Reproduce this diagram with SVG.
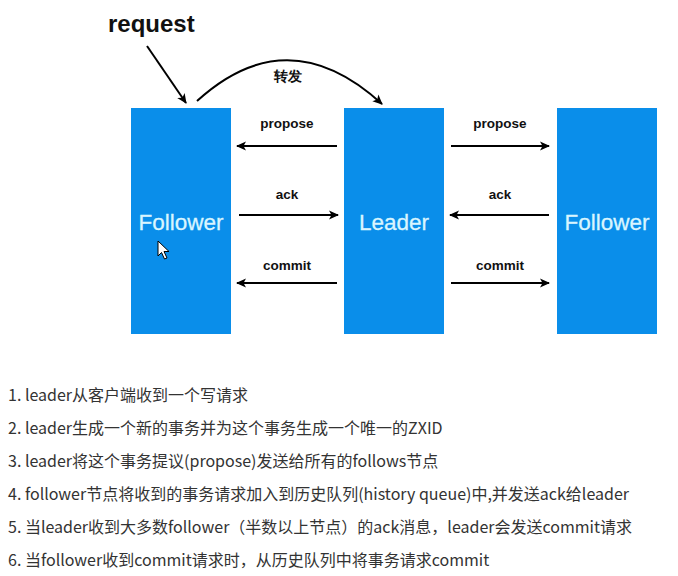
<svg xmlns="http://www.w3.org/2000/svg" width="678" height="576" viewBox="0 0 678 576">
<style>
.box{fill:#0a8eea}
.nt{font-family:"Liberation Sans",Arial,sans-serif;font-size:22.5px;fill:#d9f5ff;text-anchor:middle;stroke:#d9f5ff;stroke-width:0.3}
.lbl{font-family:"Liberation Sans",Arial,sans-serif;font-size:13.5px;font-weight:bold;fill:#111;text-anchor:middle}
.ln{stroke:#000;stroke-width:2;fill:none;marker-end:url(#ah)}
.li{font-family:"Noto Sans CJK SC","Noto Sans",sans-serif;font-size:16px;fill:#333}
</style>
<defs>
<marker id="ah" markerWidth="10" markerHeight="10" refX="9" refY="5" orient="auto" markerUnits="userSpaceOnUse">
<path d="M0,0.5 L10,5 L0,9.5 L2.5,5 Z" fill="#000"/>
</marker>
</defs>
<rect width="678" height="576" fill="#fff"/>
<g id="follower1"><rect class="box" x="131" y="108" width="100" height="226"/><text class="nt" x="181" y="230">Follower</text></g>
<g id="leader"><rect class="box" x="344" y="108" width="100" height="226"/><text class="nt" x="394" y="230">Leader</text></g>
<g id="follower2"><rect class="box" x="557" y="108" width="100" height="226"/><text class="nt" x="607" y="230">Follower</text></g>
<g id="request"><text x="108" y="32" font-family="Liberation Sans,Arial,sans-serif" font-size="24" font-weight="bold" fill="#111">request</text></g>
<g id="connectors">
<path class="ln" d="M147,46 L186,103"/>
<path class="ln" d="M197,101 Q288,18 382,104"/>
<text class="lbl" x="288" y="81" font-family="Noto Sans CJK SC,sans-serif">转发</text>
<path class="ln" d="M337,146 L237,146"/>
<text class="lbl" x="287" y="128">propose</text>
<path class="ln" d="M239,215 L338,215"/>
<text class="lbl" x="287" y="199">ack</text>
<path class="ln" d="M337,283 L237,283"/>
<text class="lbl" x="287" y="270">commit</text>
<path class="ln" d="M451,146 L549,146"/>
<text class="lbl" x="500" y="128">propose</text>
<path class="ln" d="M549,215 L450,215"/>
<text class="lbl" x="500" y="199">ack</text>
<path class="ln" d="M451,283 L549,283"/>
<text class="lbl" x="500" y="270">commit</text>
</g>
<path d="M158,241 L158,256 L161.5,252.5 L164.5,259 L167,258 L164,251.5 L169,251.5 Z" fill="#fff" stroke="#000" stroke-width="1"/>
<g id="steps">
<text class="li" x="8" y="401">1. leader从客户端收到一个写请求</text>
<text class="li" x="8" y="434">2. leader生成一个新的事务并为这个事务生成一个唯一的ZXID</text>
<text class="li" x="8" y="467">3. leader将这个事务提议(propose)发送给所有的follows节点</text>
<text class="li" x="8" y="500">4. follower节点将收到的事务请求加入到历史队列(history queue)中,并发送ack给leader</text>
<text class="li" x="8" y="533">5. 当leader收到大多数follower（半数以上节点）的ack消息，leader会发送commit请求</text>
<text class="li" x="8" y="566">6. 当follower收到commit请求时，从历史队列中将事务请求commit</text>
</g>
</svg>
